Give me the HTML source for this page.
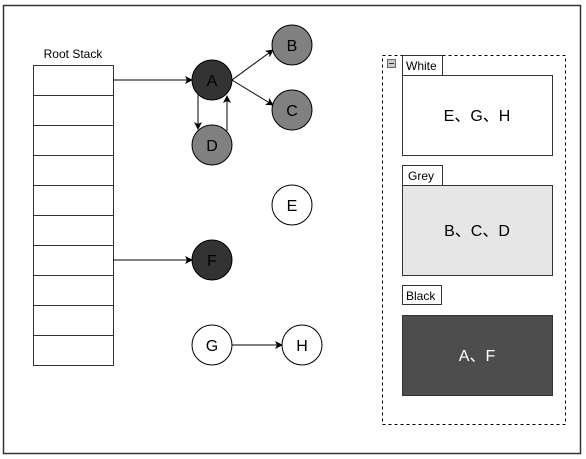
<!DOCTYPE html>
<html><head><meta charset="utf-8"><style>
html,body{margin:0;padding:0;background:#fff;}
svg{display:block;font-family:"Liberation Sans","Noto Sans CJK SC",sans-serif;}
</style></head><body>
<svg width="586" height="459" viewBox="0 0 586 459">
<defs><marker id="ar" markerWidth="8" markerHeight="8" refX="7" refY="4" orient="auto" markerUnits="userSpaceOnUse"><path d="M0,0 L8,4 L0,8 L2,4 Z" fill="#000"/></marker></defs>
<rect x="3.5" y="5.5" width="577" height="448" fill="#fff" stroke="#333" stroke-width="1.5"/>
<text x="73" y="58" font-size="12" text-anchor="middle" fill="#000">Root Stack</text>
<g fill="#fff" stroke="#333">
<rect x="33.5" y="65.5" width="80" height="30"/><rect x="33.5" y="95.5" width="80" height="30"/><rect x="33.5" y="125.5" width="80" height="30"/><rect x="33.5" y="155.5" width="80" height="30"/><rect x="33.5" y="185.5" width="80" height="30"/><rect x="33.5" y="215.5" width="80" height="30"/><rect x="33.5" y="245.5" width="80" height="30"/><rect x="33.5" y="275.5" width="80" height="30"/><rect x="33.5" y="305.5" width="80" height="30"/><rect x="33.5" y="335.5" width="80" height="30"/>
</g>
<g stroke="#000" stroke-width="1" fill="none">
<line x1="113" y1="80" x2="192" y2="80" marker-end="url(#ar)"/>
<line x1="198" y1="95" x2="198" y2="129" marker-end="url(#ar)"/>
<line x1="227" y1="131" x2="227" y2="96" marker-end="url(#ar)"/>
<line x1="232" y1="80" x2="273" y2="50" marker-end="url(#ar)"/>
<line x1="232" y1="80" x2="273" y2="105" marker-end="url(#ar)"/>
<line x1="113" y1="260" x2="192" y2="260" marker-end="url(#ar)"/>
<line x1="232" y1="345" x2="282" y2="345" marker-end="url(#ar)"/>
</g>
<g font-size="16" text-anchor="middle" stroke-width="1">
<g><circle cx="212" cy="80" r="20" fill="#333" stroke="#000"/><text x="212" y="86" fill="#000">A</text></g>
<g><circle cx="292" cy="45" r="20" fill="#808080" stroke="#000"/><text x="292" y="51">B</text></g>
<g><circle cx="292" cy="110" r="20" fill="#808080" stroke="#000"/><text x="292" y="116">C</text></g>
<g><circle cx="212" cy="145" r="20" fill="#808080" stroke="#000"/><text x="212" y="151">D</text></g>
<g><circle cx="292" cy="205" r="20" fill="#fff" stroke="#000"/><text x="292" y="211">E</text></g>
<g><circle cx="212" cy="260" r="20" fill="#333" stroke="#000"/><text x="212" y="266">F</text></g>
<g><circle cx="212" cy="345" r="20" fill="#fff" stroke="#000"/><text x="212" y="351">G</text></g>
<g><circle cx="302" cy="345" r="20" fill="#fff" stroke="#000"/><text x="302" y="351">H</text></g>
</g>
<rect x="382.5" y="55.5" width="183" height="369" fill="none" stroke="#000" stroke-dasharray="3,3"/>
<g><rect x="387.5" y="59.5" width="8" height="8" fill="#ccc" stroke="#666"/><line x1="389" y1="63.5" x2="394" y2="63.5" stroke="#333"/></g>
<g>
<rect x="402.5" y="55.5" width="40" height="20" fill="#fff" stroke="#333"/><text x="406" y="70" font-size="12">White</text>
<rect x="402.5" y="75.5" width="150" height="80" fill="#fff" stroke="#333"/><text x="477" y="121" font-size="16" text-anchor="middle">E、G、H</text>
</g>
<g>
<rect x="402.5" y="165.5" width="40" height="20" fill="#fff" stroke="#333"/><text x="408" y="180" font-size="12">Grey</text>
<rect x="402.5" y="185.5" width="150" height="90" fill="#e6e6e6" stroke="#333"/><text x="477" y="236" font-size="16" text-anchor="middle">B、C、D</text>
</g>
<g>
<rect x="402.5" y="285.5" width="39" height="19" fill="#fff" stroke="#333"/><text x="406" y="300" font-size="12">Black</text>
<rect x="402.5" y="315.5" width="150" height="80" fill="#4d4d4d" stroke="#333"/><text x="477" y="361" font-size="16" text-anchor="middle" fill="#fff">A、F</text>
</g>
</svg>
</body></html>
